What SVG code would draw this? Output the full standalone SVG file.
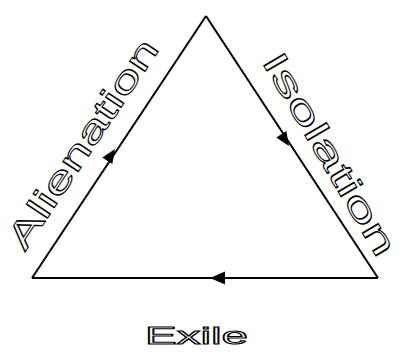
<svg xmlns="http://www.w3.org/2000/svg" width="400" height="353" viewBox="0 0 400 353">
<style>
.lbl{font-family:"Liberation Sans",Arial,sans-serif;fill:#fff;stroke:#000;stroke-width:1;}
.edge{stroke:#000;stroke-width:2;fill:none;}
.head{fill:#000;}
</style>
<rect width="400" height="353" fill="#fff"/>
<g id="connectors">
<path class="edge" d="M32,278 L206,16"/>
<path class="edge" d="M206,16 L378,278"/>
<path class="edge" d="M378,278 L32,278"/>
<polygon class="head" points="115,149 112.3,164 102.3,157.4"/>
<polygon class="head" points="289,146 286.3,131 276.3,137.6"/>
<polygon class="head" points="210,278 225,271.5 225,284.5"/>
</g>
<g id="alienation"><text class="lbl" transform="translate(25,252) rotate(-56.4)" font-size="35" textLength="244" lengthAdjust="spacingAndGlyphs">Alienation</text></g>
<g id="isolation"><text class="lbl" transform="translate(261,61) rotate(59.5)" font-size="35" textLength="230" lengthAdjust="spacingAndGlyphs">Isolation</text></g>
<g id="exile"><text class="lbl" x="145" y="344" font-size="24" textLength="103" lengthAdjust="spacingAndGlyphs">Exile</text></g>
</svg>
